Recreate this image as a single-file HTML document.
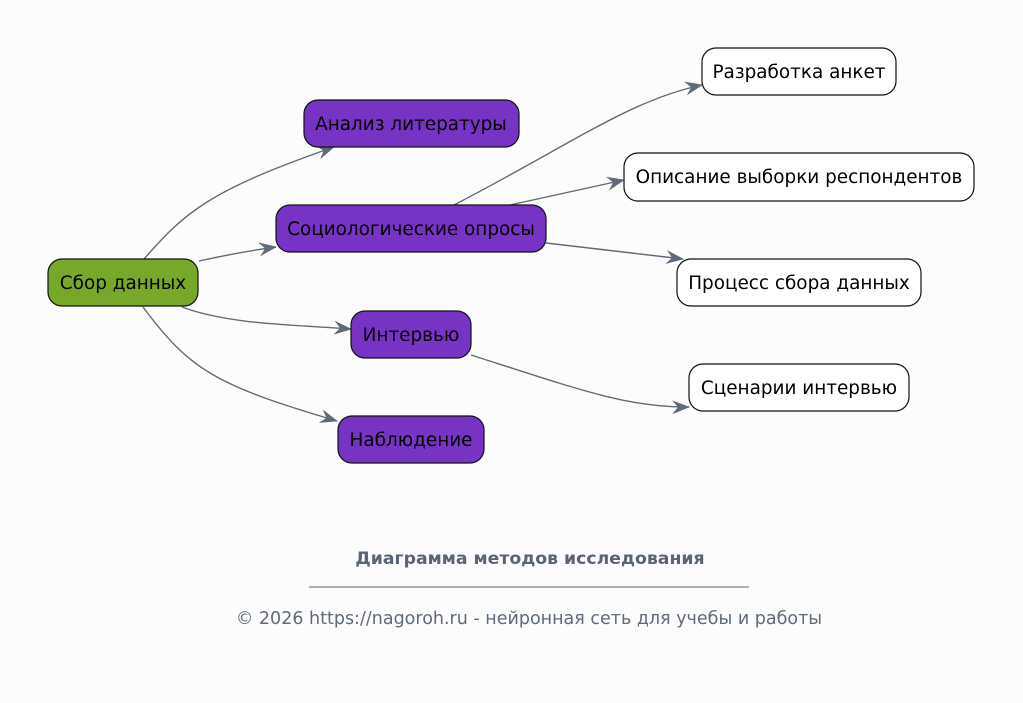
<!DOCTYPE html>
<html><head><meta charset="utf-8"><style>
body{margin:0;background:#fcfcfc;}
svg{display:block;font-family:"DejaVu Sans","Liberation Sans",sans-serif;}
</style></head><body>
<svg width="1023" height="703" viewBox="0 0 1023 703">
<defs>
<marker id="a" markerWidth="20" markerHeight="14" refX="17" refY="7" orient="auto" markerUnits="userSpaceOnUse">
<path d="M0,0 L18,7 L0,14 L6,7 Z" fill="#5f6b78"/>
</marker>
</defs>
<g fill="none" stroke="#5f6b78" stroke-width="1.4" marker-end="url(#a)">
<path d="M144,259 C185,212 210,190 334,147"/>
<path d="M199,261 Q240,252 276,247"/>
<path d="M182,307 C230,325 300,325 351,329"/>
<path d="M143,307 C190,370 215,385 337,421"/>
<path d="M454,205 C570,145 630,100 702,85"/>
<path d="M510,205 L624,180"/>
<path d="M546,243 L683,259"/>
<path d="M471,355 C580,390 630,408 689,407"/>
</g>
<g stroke="#111" stroke-width="1.2">
<rect x="48" y="259" width="150" height="47" rx="14" fill="#78a82a"/>
<rect x="304" y="100" width="215" height="47" rx="14" fill="#7733c4"/>
<rect x="276" y="205" width="270" height="47" rx="14" fill="#7733c4"/>
<rect x="351" y="311" width="120" height="47" rx="14" fill="#7733c4"/>
<rect x="338" y="416" width="146" height="47" rx="14" fill="#7733c4"/>
<rect x="702" y="48" width="194" height="47" rx="14" fill="#fff"/>
<rect x="624" y="153" width="350" height="48" rx="14" fill="#fff"/>
<rect x="677" y="259" width="244" height="47" rx="14" fill="#fff"/>
<rect x="689" y="364" width="220" height="47" rx="14" fill="#fff"/>
</g>
<g font-size="18.4" fill="#000" text-anchor="middle">
<text x="123" y="289">Сбор данных</text>
<text x="411" y="130">Анализ литературы</text>
<text x="411" y="235">Социологические опросы</text>
<text x="411" y="341">Интервью</text>
<text x="411" y="446">Наблюдение</text>
<text x="799" y="78">Разработка анкет</text>
<text x="799" y="183">Описание выборки респондентов</text>
<text x="799" y="289">Процесс сбора данных</text>
<text x="799" y="394">Сценарии интервью</text>
</g>
<text x="530" y="564" font-size="17.3" font-weight="bold" fill="#5a6474" text-anchor="middle">Диаграмма методов исследования</text>
<line x1="309" y1="587" x2="749" y2="587" stroke="#5a6474" stroke-width="1"/>
<text x="529" y="624" font-size="17.5" fill="#5f6b78" text-anchor="middle">© 2026 https://nagoroh.ru - нейронная сеть для учебы и работы</text>
</svg>
</body></html>
